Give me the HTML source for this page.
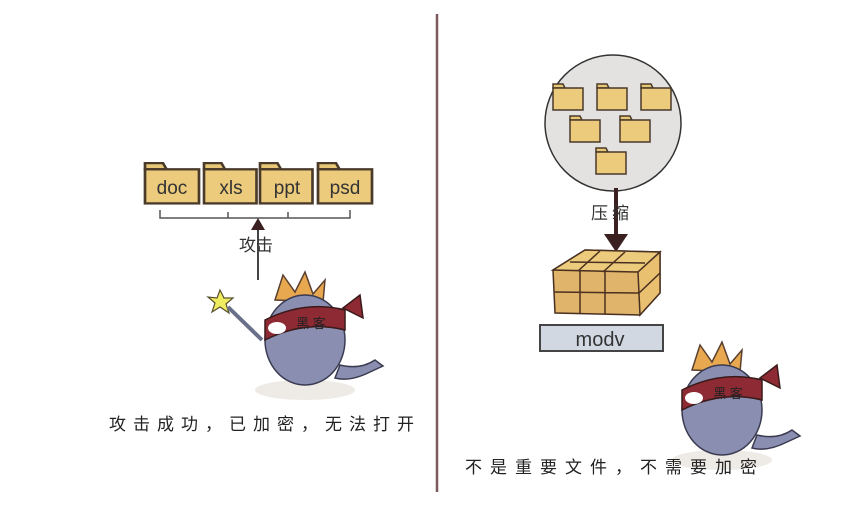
<!DOCTYPE html>
<html><head><meta charset="utf-8"><style>
body{margin:0;background:#fff;width:857px;height:509px;overflow:hidden}
text{font-family:"Liberation Sans","Noto Sans CJK SC",sans-serif}
</style></head><body>
<svg width="857" height="509" viewBox="0 0 857 509" xmlns="http://www.w3.org/2000/svg">
<defs>
<g id="fold">
<path d="M0 6 L0 2 L10 2 L12 6 Z" fill="#e8c877" stroke="#4a3a2a" stroke-width="1.5"/>
<rect x="0" y="6" width="30" height="22" fill="#eccb7c" stroke="#4a3a2a" stroke-width="1.5"/>
</g>
<g id="hacker">
<ellipse cx="0" cy="60" rx="50" ry="10" fill="#eeeae6"/>
<path d="M-30 -30 L-22 -55 L-10 -38 L0 -58 L8 -36 L20 -50 L18 -28 Z" fill="#e8a850" stroke="#5a4030" stroke-width="1.5"/>
<ellipse cx="0" cy="10" rx="40" ry="45" fill="#8a8fb2" stroke="#3a3a50" stroke-width="1.5"/>
<path d="M35 35 Q55 40 70 30 L78 36 L65 42 Q45 52 30 48 Z" fill="#8a8fb2" stroke="#3a3a50" stroke-width="1.5"/>
<path d="M-40 -10 Q0 -30 40 -20 L40 0 Q0 -10 -40 10 Z" fill="#8e2a34" stroke="#3a1a1a" stroke-width="1.5"/>
<path d="M38 -22 L55 -35 L58 -12 Z" fill="#8e2a34" stroke="#3a1a1a" stroke-width="1.5"/>
<ellipse cx="-28" cy="-2" rx="9" ry="6" fill="#fff"/>
<text x="6" y="-2" font-size="13" fill="#222" text-anchor="middle">黑 客</text>
</g>
</defs>
<g transform="translate(145,160) scale(1.8,1.55)"><use href="#fold"/></g>
<g transform="translate(204,160) scale(1.75,1.55)"><use href="#fold"/></g>
<g transform="translate(260,160) scale(1.75,1.55)"><use href="#fold"/></g>
<g transform="translate(318,160) scale(1.8,1.55)"><use href="#fold"/></g>
<text x="172" y="194" font-size="19" fill="#333" text-anchor="middle">doc</text>
<text x="231" y="194" font-size="19" fill="#333" text-anchor="middle">xls</text>
<text x="287" y="194" font-size="19" fill="#333" text-anchor="middle">ppt</text>
<text x="345" y="194" font-size="19" fill="#333" text-anchor="middle">psd</text>
<path d="M160 210 L160 218 L350 218 L350 210 M228 212 L228 218 M288 212 L288 218" fill="none" stroke="#555" stroke-width="1.5"/>
<line x1="258" y1="280" x2="258" y2="225" stroke="#444" stroke-width="2"/>
<path d="M251 230 L258 218 L265 230 Z" fill="#3a2020"/>
<text x="256" y="251" font-size="17" fill="#333" text-anchor="middle">攻击</text>
<g transform="translate(305,330)"><use href="#hacker"/></g>
<path d="M220 290 L224 298 L233 298 L226 304 L229 313 L220 307 L212 312 L215 303 L208 297 L217 298 Z" fill="#f0ec60" stroke="#5a5030" stroke-width="1.2"/>
<line x1="228" y1="307" x2="262" y2="340" stroke="#6a6f8a" stroke-width="4"/>
<text x="265" y="430" font-size="17" fill="#222" text-anchor="middle" letter-spacing="7">攻击成功，已加密，无法打开</text>
<line x1="437" y1="14" x2="437" y2="492" stroke="#7a5a5a" stroke-width="2.5"/>
<circle cx="613" cy="123" r="68" fill="#e4e2e0" stroke="#333" stroke-width="1.5"/>
<g transform="translate(553,82)"><use href="#fold"/></g>
<g transform="translate(597,82)"><use href="#fold"/></g>
<g transform="translate(641,82)"><use href="#fold"/></g>
<g transform="translate(570,114)"><use href="#fold"/></g>
<g transform="translate(620,114)"><use href="#fold"/></g>
<g transform="translate(596,146)"><use href="#fold"/></g>
<line x1="616" y1="188" x2="616" y2="240" stroke="#3a2020" stroke-width="4"/>
<path d="M604 234 L616 252 L628 234 Z" fill="#3a2020"/>
<text x="612" y="219" font-size="17" fill="#333" text-anchor="middle" letter-spacing="4">压缩</text>
<path d="M553 270 L585 250 L660 252 L660 293 L640 315 L555 313 Z" fill="#e0b46a" stroke="#4a3020" stroke-width="1.5"/>
<path d="M553 270 L585 250 L660 252 L638 272 Z" fill="#eccb7c" stroke="#4a3020" stroke-width="1.5"/>
<path d="M638 272 L660 252 L660 293 L640 315 Z" fill="#e8c070" stroke="#4a3020" stroke-width="1.5"/>
<path d="M554 292 L639 293 L660 273 M580 271 L580 313 M605 272 L605 314 M570 262 L645 263 M600 251 L578 271 M625 252 L603 272" fill="none" stroke="#4a3020" stroke-width="1.5"/>
<rect x="540" y="325" width="123" height="26" fill="#d2d8e2" stroke="#444" stroke-width="2"/>
<text x="600" y="346" font-size="20" fill="#333" text-anchor="middle">modv</text>
<g transform="translate(722,400)"><use href="#hacker"/></g>
<text x="615" y="473" font-size="17" fill="#222" text-anchor="middle" letter-spacing="8">不是重要文件，不需要加密</text>
</svg>
</body></html>
